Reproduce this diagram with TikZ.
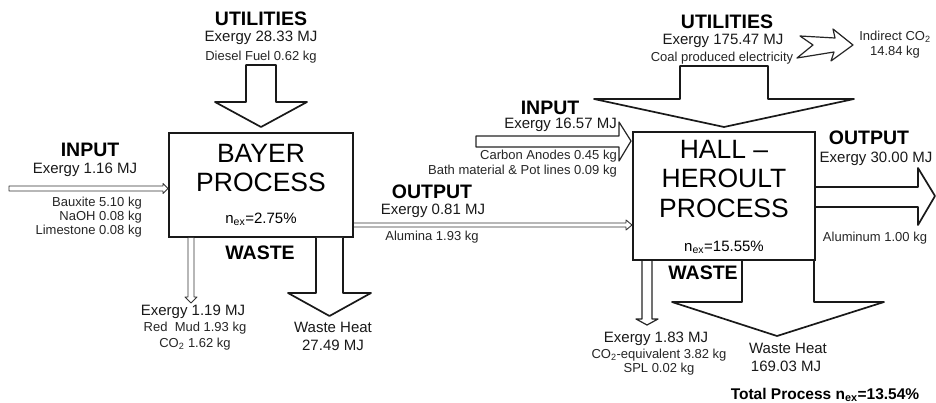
\documentclass[tikz,border=0pt]{standalone}
\usepackage{fontspec}
\setmainfont{Liberation Sans}
\usetikzlibrary{calc}

\begin{document}
\begin{tikzpicture}[
    x=1pt, y=-1pt,
    procbox/.style={draw=black!90, line width=2pt, fill=white},
    proctext/.style={font=\fontsize{26.5}{29.5}\selectfont, align=center, inner sep=0pt},
    eff/.style={font=\fontsize{15}{18}\selectfont, inner sep=0pt},
    head/.style={font=\fontsize{19.5}{22}\selectfont\bfseries, inner sep=0pt},
    exer/.style={font=\fontsize{15}{18}\selectfont, inner sep=0pt, text=black!90},
    note/.style={font=\fontsize{13}{14}\selectfont, inner sep=0pt, text=black!85},
    fatflow/.style={draw=black!90, line width=1.7pt, line join=round, fill=white},
    thinflow/.style={draw=black!80, line width=0.9pt, line join=round, fill=white},
    medflow/.style={draw=black!85, line width=1.2pt, line join=round, fill=white}
]

% page
\path[use as bounding box, fill=white] (0,0) rectangle (936,403);

% ===== PROCESS BOXES =====
\node[procbox, minimum width=184pt, minimum height=104pt] (bayer) at (261,185) {};
\node[procbox, minimum width=182pt, minimum height=128pt] (hall) at (724,196) {};

% ===== BAYER FLOWS =====
% Utilities down into Bayer
\draw[fatflow] ($(bayer.north)+(-15,-67)$) -- ++(30,0) -- ++(0,37) -- ++(31,0)
    -- ($(bayer.north)+(0,-5)$) -- ++(-46,-25) -- ++(31,0) -- cycle;

% Input from the left
\coordinate (inBtip) at ($(bayer.west)+(0,3.5)$);
\draw[thinflow] (inBtip) -- ++(-5,-5) -- ++(0,2.5) -- ++(-154,0) -- ++(0,5)
    -- ++(154,0) -- ++(0,2.5) -- cycle;

% Red mud waste
\coordinate (wasteBtop) at ($(bayer.south west)+(23,0)$);
\draw[thinflow] ($(wasteBtop)+(-3,0)$) -- ++(0,59) -- ++(-3,0)
    -- ($(wasteBtop)+(0,65)$) -- ++(6,-6) -- ++(-3,0) -- ++(0,-59);

% Waste heat
\draw[fatflow] ($(bayer.south east)+(-38,0)$) -- ++(0,55) -- ++(-28,0)
    -- ($(bayer.south east)+(-24.5,78)$) -- ++(41.5,-23) -- ++(-28,0) -- ++(0,-55);

% Alumina from Bayer to Hall-Heroult
\coordinate (aluOut) at ($(bayer.south east)+(0,-13)$);
\coordinate (aluIn) at ($(hall.south west)+(0,-36)$);
\draw[thinflow] ($(aluOut)+(0,-2)$) -- ($(aluIn)+(-6,-2)$) -- ++(0,-3) -- (aluIn)
    -- ++(-6,5) -- ++(0,-3) -- ($(aluOut)+(0,2)$);

% ===== HALL-HEROULT FLOWS =====
% Utilities down into Hall-Heroult
\draw[fatflow] ($(hall.north)+(-44,-65)$) -- ++(88,0) -- ++(0,33) -- ++(86,0)
    -- ($(hall.north)+(0,-4)$) -- ++(-130,-28) -- ++(86,0) -- cycle;

% Indirect CO2 from electricity
\coordinate (co2tip) at (853,45);
\draw[medflow] (co2tip) -- ++(-22,16) -- ++(3,-9) -- ++(-37,6) -- ++(16,-13)
    -- ++(-13,-9) -- ++(35,2) -- ++(-2,-9) -- cycle;

% Anodes input
\coordinate (inHtip) at ($(hall.north west)+(-1,10)$);
\draw[medflow] (inHtip) -- ++(-12,-19) -- ++(0,14) -- ++(-143,0) -- ++(0,11)
    -- ++(143,0) -- ++(0,14) -- cycle;

% Aluminum output
\draw[fatflow] ($(hall.east)+(0,-9)$) -- ++(102,0) -- ++(0,-19)
    -- ($(hall.east)+(119,0)$) -- ++(-17,29) -- ++(0,-18) -- ++(-102,0);

% Emissions waste
\draw[medflow] ($(hall.south west)+(10,0)$) -- ++(0,58) -- ++(-6,0)
    -- ($(hall.south west)+(15,64)$) -- ++(11,-6) -- ++(-6,0) -- ++(0,-58);

% Waste heat
\draw[fatflow] ($(hall.south east)+(-74,0)$) -- ++(0,41) -- ++(-70,0)
    -- ($(hall.south east)+(-39,75)$) -- ++(107,-34) -- ++(-70,0) -- ++(0,-41);

% ===== BAYER LABELS =====
\node[proctext] (bayerName) at (261,168) {BAYER\\PROCESS};
\node[eff] (bayerEff) at (261,219) {n\textsubscript{ex}=2.75\%};

\node[head] (utilB) at (261,19) {UTILITIES};
\node[exer] (utilBex) at (261,38) {Exergy 28.33 MJ};
\node[note] (utilBfuel) at (261,57) {Diesel Fuel 0.62 kg};

\node[head] (inB) at (90,150) {INPUT};
\node[exer] (inBex) at (85,170) {Exergy 1.16 MJ};
\node[note, align=right, anchor=east] (inBmat) at (142,217) {Bauxite 5.10 kg\\NaOH 0.08 kg\\Limestone 0.08 kg};

\node[head] (wasteB) at (260,253) {WASTE};
\node[exer] (wasteBex) at (193,312) {Exergy 1.19 MJ};
\node[note] (wasteBmud) at (195,328) {Red\ \ Mud 1.93 kg};
\node[note] (wasteBco) at (195,344) {CO\textsubscript{2} 1.62 kg};
\node[exer] (heatB) at (333,327) {Waste Heat};
\node[exer] (heatBval) at (333,345) {27.49 MJ};

\node[head] (outB) at (432,192) {OUTPUT};
\node[exer] (outBex) at (433,211) {Exergy 0.81 MJ};
\node[note] (outBalu) at (432,237) {Alumina 1.93 kg};

% ===== HALL-HEROULT LABELS =====
\node[proctext] (hallName) at (724,179) {HALL –\\HEROULT\\PROCESS};
\node[eff] (hallEff) at (724,247) {n\textsubscript{ex}=15.55\%};

\node[head] (utilH) at (727,22) {UTILITIES};
\node[exer] (utilHex) at (723,41) {Exergy 175.47 MJ};
\node[note] (utilHcoal) at (722,58) {Coal produced electricity};
\node[note] (co2H) at (895,37) {Indirect CO\textsubscript{2}};
\node[note] (co2Hval) at (895,52) {14.84 kg};

\node[head] (inH) at (550,108) {INPUT};
\node[exer, anchor=east] (inHex) at (617,125) {Exergy 16.57 MJ};
\node[note, anchor=east] (inHanode) at (617,156) {Carbon Anodes 0.45 kg};
\node[note, anchor=east] (inHbath) at (617,171) {Bath material \& Pot lines 0.09 kg};

\node[head] (outH) at (869,138) {OUTPUT};
\node[exer] (outHex) at (876,159) {Exergy 30.00 MJ};
\node[note] (outHalu) at (875,238) {Aluminum 1.00 kg};

\node[head] (wasteH) at (703,273) {WASTE};
\node[exer] (wasteHex) at (656,339) {Exergy 1.83 MJ};
\node[note] (wasteHco) at (659,355) {CO\textsubscript{2}-equivalent 3.82 kg};
\node[note] (wasteHspl) at (659,369) {SPL 0.02 kg};
\node[exer] (heatH) at (788,348) {Waste Heat};
\node[exer] (heatHval) at (786,366) {169.03 MJ};

% ===== OVERALL =====
\node[font=\fontsize{15.5}{18}\selectfont\bfseries, inner sep=0pt] (total) at (825,395) {Total Process n\textsubscript{ex}=13.54\%};

\end{tikzpicture}
\end{document}
